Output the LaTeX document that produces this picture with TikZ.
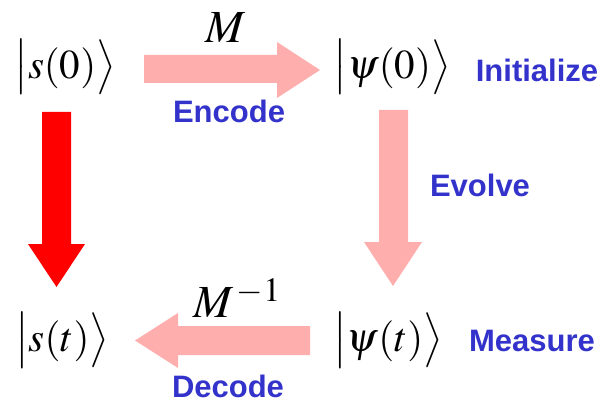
\documentclass[tikz,border=0pt]{standalone}
\usepackage{graphicx}
\usepackage{mathptmx}
\usepackage[no-math]{fontspec}
\newfontfamily\labfont{Liberation Sans}
\definecolor{pinkarrow}{RGB}{255,174,174}
\definecolor{labblue}{RGB}{51,51,204}
\newcommand{\kbarL}{\scalebox{1}[1.12]{$\bigl|$}}
\newcommand{\kangR}{\scalebox{1}[1.12]{$\bigr\rangle$}}
\newcommand{\myket}[1]{\kbarL$#1$\kangR}
\tikzset{
  ket/.style={inner sep=0pt, font=\fontsize{41}{45}\selectfont},
  opname/.style={inner sep=0pt, font=\fontsize{46}{50}\selectfont},
  steplabel/.style={inner sep=0pt, text=labblue, font=\labfont\bfseries\fontsize{31}{34}\selectfont},
  pinkblock/.style={fill=pinkarrow, draw=none},
  redblock/.style={fill=red, draw=none}
}
\begin{document}
\begin{tikzpicture}[x=1pt,y=-1pt]
\useasboundingbox (0,0) rectangle (605,401);
% states
\node[ket] (s0) at (65,67) {\myket{s(0)}};
\node[ket] (p0) at (392,67) {\myket{\psi(0)}};
\node[ket] (st) at (62,340) {\myket{s(t)}};
\node[ket] (pt) at (388,340) {\myket{\psi(t)}};
% operators
\node[opname] (M) at (226,28) {$M$};
\node[opname] (Minv) at (237,298) {$M^{\,-1}$};
% labels
\node[steplabel] (enc) at (229,111) {Encode};
\node[steplabel] (ini) at (537,70) {Initialize};
\node[steplabel] (evo) at (480,185) {Evolve};
\node[steplabel] (mea) at (532,341) {Measure};
\node[steplabel] (dec) at (228,386) {Decode};
% block arrows
\fill[pinkblock] (144,55) -- (277,55) -- (277,42) -- (320,70) -- (277,98) -- (277,83) -- (144,83) -- cycle;
\fill[redblock] (42,112) -- (71,112) -- (71,244) -- (85,244) -- (56.5,287) -- (28,244) -- (42,244) -- cycle;
\fill[pinkblock] (379,110) -- (408,110) -- (408,242) -- (422,242) -- (393,286) -- (364,242) -- (379,242) -- cycle;
\fill[pinkblock] (310,326) -- (178,326) -- (178,313) -- (135,340.5) -- (178,368) -- (178,355) -- (310,355) -- cycle;
\end{tikzpicture}
\end{document}
